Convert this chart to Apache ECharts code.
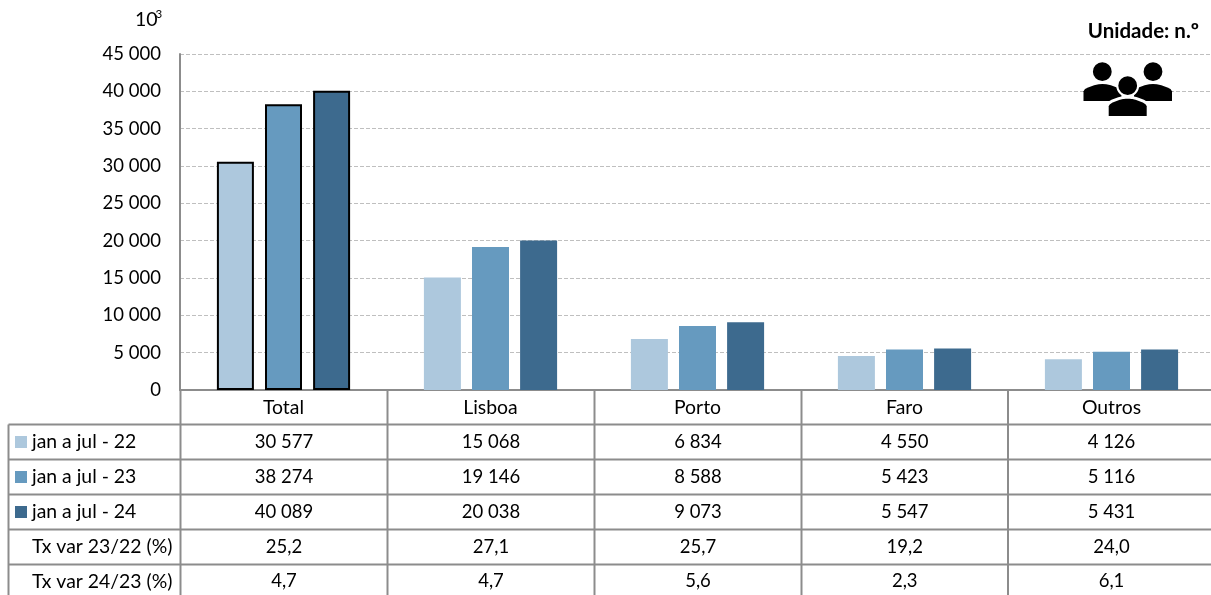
<!DOCTYPE html>
<html><head><meta charset="utf-8">
<style>html,body{margin:0;padding:0;background:#fff;overflow:hidden;width:1211px;height:595px}#c{width:1216px;height:595px}</style>
<script src="https://cdn.jsdelivr.net/npm/echarts@6/dist/echarts.min.js"></script>
</head><body><div id="c"></div>
<script>
const categories = ['Total','Lisboa','Porto','Faro','Outros'];
const s22 = [30577,15068,6834,4550,4126];
const s23 = [38274,19146,8588,5423,5116];
const s24 = [40089,20038,9073,5547,5431];
const var2322 = ['25,2','27,1','25,7','19,2','24,0'];
const var2423 = ['4,7','4,7','5,6','2,3','6,1'];
const seriesNames = ['jan a jul - 22','jan a jul - 23','jan a jul - 24'];
const varNames = ['Tx var 23/22 (%)','Tx var 24/23 (%)'];
const colors = ['#ADC8DD','#669ABF','#3D6A8E'];
const FONT = 'Lato';
const FS = 18.5;
const FS_LABEL = 19.4;
const fmt = v => String(v).replace(/\B(?=(\d{3})+(?!\d))/g,' ');

const chart = echarts.init(document.getElementById('c'),null,{renderer:'canvas'});
const colX = [180.5,387.5,594.5,801.5,1008,1215];
const rowY = [390,424.5,459.5,494.5,529.5,564.5,600];
const LINE = {stroke:'#8c8c8c',lineWidth:2};
const g = [];
const line=(x1,y1,x2,y2)=>g.push({type:'line',silent:true,shape:{x1,y1,x2,y2},style:LINE,z:5});
rowY.slice(1,6).forEach(y=>line(8.5,y,1215,y));
colX.forEach(x=>line(x,390,x,600));
line(8.5,424.5,8.5,600);
const text=(x,y,t,align,extra)=>g.push({type:'text',silent:true,x,y,z:6,style:Object.assign({text:t,fontFamily:FONT,fontSize:FS,fill:'#000',align,verticalAlign:'middle'},extra||{})});
const rows=[s22.map(fmt),s23.map(fmt),s24.map(fmt),var2322,var2423];
const rowNames=seriesNames.concat(varNames);
rows.forEach((r,i)=>{
  const cy=(rowY[i+1]+rowY[i+2])/2+(i===4?-1:0);
  text(32,cy,rowNames[i],'left',{fontSize:FS_LABEL});
  if(i<3) g.push({type:'rect',silent:true,shape:{x:15,y:cy-6,width:12,height:12},style:{fill:colors[i]},z:6});
  r.forEach((v,j)=>text((colX[j]+colX[j+1])/2,cy,v,'center'));
});
// unit label and exponent
text(1199,31,'Unidade: n.º','right',{fontWeight:'bold',fontSize:20.5});
g.push({type:'text',silent:true,x:135,y:20,z:6,style:{text:'10',fontFamily:FONT,fontSize:19.5,fill:'#000',verticalAlign:'middle'}});
g.push({type:'text',silent:true,x:155.5,y:14.5,z:6,style:{text:'3',fontFamily:FONT,fontSize:11.5,fill:'#000',verticalAlign:'middle'}});
// people icon
const profile=[[0,1],[0,.42],[.04,.3],[.12,.2],[.28,.08],[.4,.02],[.5,0],[.6,.02],[.72,.08],[.88,.2],[.96,.3],[1,.42],[1,1]];
const body=(x,y,w,h,halo)=>g.push({type:'polygon',silent:true,z:7,
  shape:{points:profile.map(p=>[x+p[0]*w,y+p[1]*h])},
  style:{fill:'#000',stroke:halo?'#fff':'#000',lineWidth:halo?3:0}});
const head=(cx,cy,r,halo)=>g.push({type:'circle',silent:true,z:8,shape:{cx,cy,r},style:{fill:'#000',stroke:halo?'#fff':null,lineWidth:halo?2:0}});
head(1102.3,71.7,9.4,false);head(1153,71.7,9.4,false);
body(1083.5,84,38,17,false);body(1134,84,38,17,false);
body(1107.2,97,41,20.5,true);
head(1127.7,85.7,10.4,true);

const mk=(name,data,i)=>({name,type:'bar',barWidth:37,barGap:'30%',
  data:data.map((v,j)=>({value:v,itemStyle:j===0?{color:colors[i],borderColor:'#000',borderWidth:2}:{color:colors[i]}})),
  itemStyle:{color:colors[i]},animation:false});
chart.setOption({
  animation:false,
  grid:{left:180,top:54,width:1035,height:336,containLabel:false},
  xAxis:{type:'category',data:categories,axisTick:{show:false},
    axisLine:{lineStyle:{color:'#8c8c8c',width:2}},
    axisLabel:{fontFamily:FONT,fontSize:FS_LABEL,color:'#000',margin:8,interval:0}},
  yAxis:{type:'value',min:0,max:45000,interval:5000,
    axisLine:{show:true,lineStyle:{color:'#8c8c8c',width:2}},axisTick:{show:false},
    axisLabel:{fontFamily:FONT,fontSize:FS,color:'#000',margin:19,formatter:fmt},
    splitLine:{show:true,lineStyle:{color:'#bfbfbf',type:[4,2],width:1}}},
  series:[mk(seriesNames[0],s22,0),mk(seriesNames[1],s23,1),mk(seriesNames[2],s24,2)],
  graphic:g
});
</script></body></html>
